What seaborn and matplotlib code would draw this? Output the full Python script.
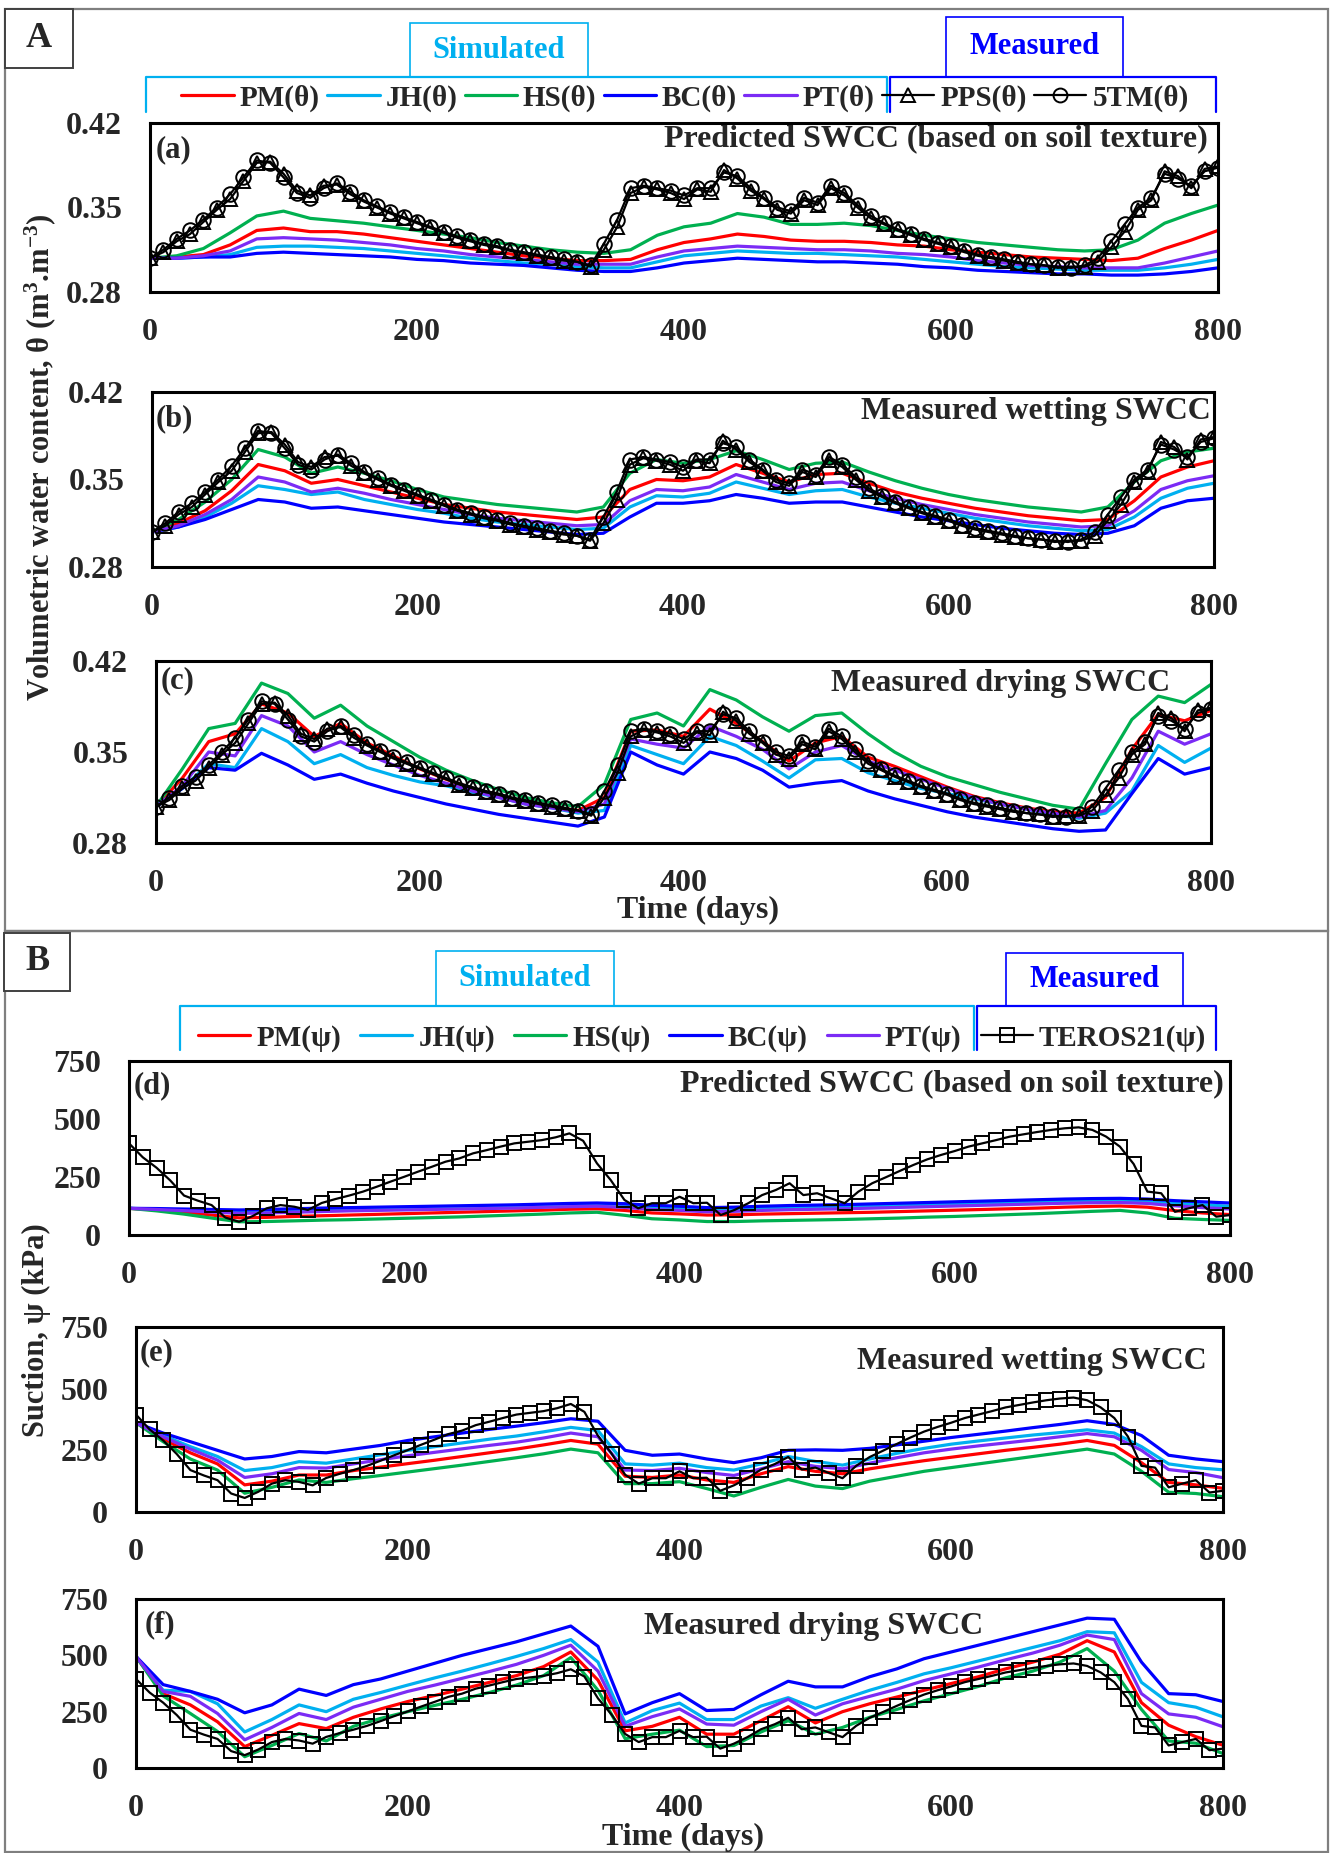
import numpy as np
import pandas as pd
import matplotlib
matplotlib.use("Agg")
import matplotlib.pyplot as plt
from matplotlib.lines import Line2D
from matplotlib.patches import Rectangle
import seaborn as sns

# ---------------- data ----------------
DAYS_SIM = list(range(0, 801, 20))
DAYS_MEAS = list(range(0, 801, 10))
MODELS = ['PM', 'JH', 'HS', 'BC', 'PT']
COLORS = {'PM': '#FF0000', 'JH': '#00B0F0', 'HS': '#00B050',
          'BC': '#0000FF', 'PT': '#7B2BF5'}

# measured water content (same sensors in a, b, c)
pps_theta = [0.308, 0.313, 0.322, 0.328, 0.338, 0.348, 0.357, 0.372, 0.387, 0.388,
             0.378, 0.364, 0.360, 0.368, 0.369, 0.361, 0.355, 0.350, 0.345, 0.341,
             0.337, 0.333, 0.329, 0.325, 0.322, 0.319, 0.317, 0.314, 0.312, 0.310,
             0.308, 0.306, 0.305, 0.301, 0.315, 0.334, 0.362, 0.367, 0.365, 0.362,
             0.357, 0.365, 0.363, 0.381, 0.374, 0.364, 0.357, 0.348, 0.345, 0.356,
             0.352, 0.366, 0.360, 0.350, 0.341, 0.336, 0.331, 0.327, 0.323, 0.320,
             0.317, 0.313, 0.310, 0.308, 0.306, 0.304, 0.303, 0.302, 0.300, 0.301,
             0.301, 0.305, 0.317, 0.330, 0.348, 0.356, 0.380, 0.376, 0.366, 0.382,
             0.384]
tm5_theta = [0.308, 0.315, 0.324, 0.331, 0.340, 0.350, 0.361, 0.375, 0.389, 0.387,
             0.375, 0.362, 0.358, 0.366, 0.370, 0.363, 0.356, 0.351, 0.346, 0.342,
             0.338, 0.334, 0.330, 0.326, 0.323, 0.320, 0.318, 0.315, 0.313, 0.311,
             0.309, 0.307, 0.305, 0.302, 0.320, 0.340, 0.366, 0.368, 0.366, 0.364,
             0.360, 0.366, 0.366, 0.379, 0.376, 0.366, 0.358, 0.350, 0.347, 0.358,
             0.354, 0.368, 0.362, 0.352, 0.343, 0.337, 0.332, 0.328, 0.324, 0.321,
             0.318, 0.314, 0.311, 0.309, 0.307, 0.305, 0.303, 0.302, 0.301, 0.300,
             0.302, 0.308, 0.322, 0.336, 0.350, 0.358, 0.378, 0.374, 0.368, 0.380,
             0.383]
# measured suction (d, e, f)
teros_psi = [395, 335, 290, 235, 170, 148, 129, 75, 57, 82,
             115, 129, 122, 108, 138, 155, 170, 187, 208, 230,
             251, 273, 294, 316, 330, 352, 366, 381, 395, 402,
             409, 421, 438, 406, 309, 237, 151, 115, 137, 137,
             165, 137, 139, 86, 108, 137, 172, 194, 223, 172,
             180, 158, 137, 187, 223, 249, 276, 302, 326, 345,
             362, 381, 395, 409, 424, 434, 444, 453, 460, 464,
             453, 424, 381, 306, 187, 180, 100, 115, 129, 79,
             86]

# (a) predicted SWCC, theta
a_pm = [0.308, 0.309, 0.311, 0.319, 0.331, 0.333, 0.330, 0.330, 0.328, 0.325,
        0.322, 0.319, 0.316, 0.313, 0.310, 0.308, 0.306, 0.306, 0.307, 0.315,
        0.321, 0.324, 0.328, 0.326, 0.323, 0.322, 0.322, 0.321, 0.319, 0.318,
        0.315, 0.313, 0.311, 0.309, 0.308, 0.307, 0.306, 0.308, 0.316, 0.323,
        0.331]
a_jh = [0.308, 0.308, 0.309, 0.311, 0.317, 0.318, 0.318, 0.317, 0.316, 0.314,
        0.312, 0.310, 0.308, 0.306, 0.304, 0.303, 0.301, 0.300, 0.300, 0.305,
        0.310, 0.312, 0.314, 0.313, 0.312, 0.312, 0.311, 0.310, 0.309, 0.307,
        0.305, 0.303, 0.301, 0.300, 0.299, 0.298, 0.298, 0.298, 0.300, 0.303,
        0.307]
a_hs = [0.308, 0.310, 0.316, 0.329, 0.343, 0.347, 0.341, 0.339, 0.337, 0.334,
        0.331, 0.328, 0.325, 0.321, 0.318, 0.315, 0.313, 0.312, 0.315, 0.327,
        0.334, 0.337, 0.345, 0.342, 0.336, 0.336, 0.337, 0.335, 0.331, 0.327,
        0.324, 0.321, 0.319, 0.317, 0.315, 0.314, 0.315, 0.323, 0.337, 0.345,
        0.352]
a_bc = [0.308, 0.308, 0.309, 0.309, 0.312, 0.313, 0.312, 0.311, 0.310, 0.309,
        0.307, 0.306, 0.304, 0.303, 0.302, 0.300, 0.298, 0.297, 0.297, 0.300,
        0.304, 0.306, 0.308, 0.307, 0.306, 0.305, 0.305, 0.304, 0.303, 0.301,
        0.300, 0.298, 0.297, 0.296, 0.295, 0.295, 0.294, 0.294, 0.295, 0.297,
        0.300]
a_pt = [0.308, 0.308, 0.310, 0.314, 0.324, 0.325, 0.324, 0.323, 0.321, 0.319,
        0.316, 0.314, 0.311, 0.309, 0.307, 0.305, 0.303, 0.303, 0.303, 0.309,
        0.314, 0.316, 0.318, 0.317, 0.316, 0.315, 0.315, 0.314, 0.312, 0.311,
        0.309, 0.306, 0.304, 0.302, 0.301, 0.300, 0.300, 0.300, 0.304, 0.309,
        0.314]

# (b) measured wetting SWCC, theta
b_pm = [0.308, 0.315, 0.325, 0.341, 0.362, 0.357, 0.347, 0.350, 0.345, 0.340,
        0.335, 0.330, 0.327, 0.324, 0.322, 0.320, 0.318, 0.320, 0.342, 0.350,
        0.349, 0.352, 0.362, 0.355, 0.348, 0.354, 0.355, 0.347, 0.340, 0.335,
        0.331, 0.327, 0.324, 0.321, 0.319, 0.317, 0.318, 0.333, 0.352, 0.360,
        0.365]
b_jh = [0.308, 0.312, 0.320, 0.331, 0.345, 0.342, 0.338, 0.340, 0.334, 0.330,
        0.326, 0.323, 0.319, 0.316, 0.314, 0.312, 0.310, 0.311, 0.328, 0.337,
        0.336, 0.339, 0.348, 0.343, 0.338, 0.341, 0.342, 0.336, 0.331, 0.327,
        0.323, 0.319, 0.316, 0.313, 0.311, 0.309, 0.310, 0.320, 0.335, 0.343,
        0.347]
b_hs = [0.308, 0.318, 0.332, 0.350, 0.374, 0.368, 0.355, 0.360, 0.355, 0.349,
        0.342, 0.336, 0.333, 0.330, 0.328, 0.326, 0.324, 0.328, 0.355, 0.366,
        0.363, 0.366, 0.373, 0.366, 0.358, 0.363, 0.364, 0.356, 0.349, 0.343,
        0.338, 0.334, 0.331, 0.328, 0.326, 0.324, 0.328, 0.348, 0.365, 0.372,
        0.375]
b_bc = [0.308, 0.312, 0.318, 0.326, 0.334, 0.332, 0.327, 0.328, 0.325, 0.322,
        0.319, 0.316, 0.314, 0.312, 0.310, 0.308, 0.306, 0.307, 0.320, 0.331,
        0.331, 0.333, 0.338, 0.335, 0.331, 0.332, 0.332, 0.328, 0.324, 0.320,
        0.317, 0.314, 0.311, 0.309, 0.307, 0.306, 0.307, 0.313, 0.327, 0.333,
        0.335]
b_pt = [0.308, 0.313, 0.322, 0.334, 0.352, 0.348, 0.340, 0.343, 0.339, 0.334,
        0.330, 0.326, 0.322, 0.319, 0.317, 0.315, 0.313, 0.314, 0.333, 0.342,
        0.341, 0.344, 0.354, 0.348, 0.342, 0.347, 0.348, 0.341, 0.335, 0.330,
        0.326, 0.322, 0.319, 0.316, 0.314, 0.312, 0.313, 0.325, 0.342, 0.349,
        0.353]

# (c) measured drying SWCC, theta
c_pm = [0.308, 0.330, 0.358, 0.364, 0.387, 0.380, 0.362, 0.372, 0.357, 0.347,
        0.337, 0.329, 0.322, 0.316, 0.311, 0.308, 0.305, 0.315, 0.366, 0.367,
        0.362, 0.383, 0.372, 0.358, 0.343, 0.357, 0.362, 0.346, 0.339, 0.331,
        0.323, 0.316, 0.311, 0.307, 0.304, 0.303, 0.315, 0.352, 0.379, 0.374,
        0.382]
c_jh = [0.308, 0.322, 0.341, 0.338, 0.368, 0.358, 0.341, 0.348, 0.338, 0.332,
        0.327, 0.324, 0.319, 0.315, 0.310, 0.307, 0.303, 0.305, 0.355, 0.348,
        0.341, 0.362, 0.355, 0.343, 0.330, 0.344, 0.345, 0.334, 0.328, 0.322,
        0.318, 0.314, 0.310, 0.306, 0.302, 0.299, 0.303, 0.320, 0.355, 0.342,
        0.353]
c_hs = [0.308, 0.337, 0.368, 0.372, 0.403, 0.395, 0.376, 0.386, 0.370, 0.358,
        0.346, 0.336, 0.328, 0.321, 0.315, 0.311, 0.308, 0.325, 0.375, 0.380,
        0.370, 0.398, 0.390, 0.377, 0.366, 0.378, 0.380, 0.364, 0.350, 0.339,
        0.331, 0.325, 0.319, 0.314, 0.309, 0.306, 0.341, 0.375, 0.393, 0.388,
        0.402]
c_bc = [0.308, 0.322, 0.338, 0.336, 0.349, 0.340, 0.329, 0.333, 0.326, 0.320,
        0.315, 0.310, 0.306, 0.302, 0.299, 0.296, 0.293, 0.300, 0.350, 0.340,
        0.333, 0.350, 0.345, 0.336, 0.323, 0.326, 0.328, 0.320, 0.314, 0.309,
        0.304, 0.300, 0.297, 0.294, 0.291, 0.289, 0.290, 0.318, 0.345, 0.333,
        0.338]
c_pt = [0.308, 0.324, 0.350, 0.347, 0.378, 0.370, 0.350, 0.358, 0.348, 0.340,
        0.332, 0.326, 0.320, 0.315, 0.310, 0.307, 0.304, 0.310, 0.360, 0.356,
        0.353, 0.370, 0.362, 0.352, 0.337, 0.350, 0.355, 0.343, 0.336, 0.329,
        0.322, 0.315, 0.310, 0.306, 0.303, 0.300, 0.305, 0.330, 0.366, 0.356,
        0.364]

# (d) predicted SWCC, suction
d_pm = [115, 108, 98, 86, 74, 76, 80, 83, 86, 89,
        92, 95, 98, 101, 104, 107, 111, 113, 106, 95,
        91, 86, 87, 90, 92, 94, 96, 98, 101, 104,
        107, 110, 113, 116, 120, 123, 125, 120, 105, 95,
        88]
d_jh = [115, 112, 108, 103, 98, 100, 104, 107, 110, 112,
        114, 116, 118, 120, 122, 125, 128, 130, 126, 118,
        114, 108, 110, 114, 117, 119, 121, 124, 127, 130,
        133, 136, 139, 142, 145, 147, 148, 145, 137, 130,
        124]
d_hs = [115, 104, 90, 73, 57, 58, 61, 64, 66, 69,
        72, 75, 78, 82, 86, 90, 95, 98, 85, 70,
        65, 58, 58, 61, 63, 65, 67, 70, 73, 77,
        80, 84, 88, 92, 97, 102, 106, 95, 72, 67,
        63]
d_bc = [115, 114, 112, 110, 108, 110, 113, 116, 118, 120,
        122, 124, 126, 128, 130, 133, 136, 138, 135, 128,
        124, 118, 120, 124, 127, 129, 131, 134, 137, 140,
        143, 146, 149, 152, 155, 157, 158, 155, 148, 143,
        138]
d_pt = [115, 110, 105, 99, 93, 95, 98, 101, 104, 106,
        108, 110, 112, 114, 116, 119, 122, 124, 119, 110,
        106, 100, 102, 106, 109, 111, 113, 116, 119, 122,
        125, 128, 131, 134, 137, 139, 140, 136, 126, 118,
        112]

# (e) measured wetting SWCC, suction
e_pm = [362, 295, 240, 195, 110, 125, 150, 150, 168, 182,
        196, 210, 225, 240, 255, 272, 290, 275, 145, 140,
        150, 130, 120, 155, 184, 165, 155, 175, 192, 208,
        222, 236, 250, 262, 275, 290, 270, 200, 120, 110,
        96]
e_jh = [362, 310, 265, 225, 168, 180, 204, 198, 215, 232,
        250, 265, 280, 295, 308, 325, 343, 330, 195, 190,
        198, 180, 170, 195, 225, 205, 190, 215, 238, 258,
        275, 288, 300, 312, 322, 333, 320, 265, 195, 180,
        171]
e_hs = [362, 285, 215, 170, 76, 100, 130, 120, 135, 148,
        162, 176, 190, 205, 220, 236, 255, 240, 115, 115,
        123, 95, 65, 100, 132, 105, 95, 125, 145, 165,
        180, 195, 210, 225, 240, 255, 235, 165, 80, 75,
        62]
e_bc = [362, 320, 285, 250, 215, 225, 245, 240, 255, 270,
        290, 305, 320, 335, 348, 362, 378, 368, 250, 230,
        235, 215, 200, 220, 250, 252, 250, 258, 272, 287,
        302, 315, 328, 342, 355, 370, 355, 310, 230, 215,
        204]
e_pt = [362, 305, 255, 210, 140, 155, 180, 178, 195, 212,
        228, 242, 256, 270, 283, 300, 320, 305, 170, 168,
        177, 160, 148, 175, 204, 185, 175, 198, 220, 240,
        255, 268, 280, 292, 305, 318, 305, 250, 172, 160,
        139]

# (f) measured drying SWCC, suction
f_pm = [495, 330, 280, 205, 95, 145, 197, 175, 225, 262,
        295, 322, 350, 380, 410, 450, 515, 390, 165, 185,
        225, 150, 150, 210, 272, 200, 250, 285, 315, 345,
        375, 405, 440, 470, 505, 565, 515, 290, 190, 139,
        101]
f_jh = [495, 345, 340, 285, 160, 215, 280, 250, 305, 335,
        368, 400, 430, 462, 495, 530, 570, 470, 200, 255,
        288, 215, 215, 275, 312, 265, 305, 345, 380, 418,
        445, 475, 505, 535, 565, 605, 600, 380, 290, 270,
        227]
f_hs = [495, 320, 242, 162, 50, 100, 153, 120, 185, 220,
        250, 278, 305, 335, 368, 410, 490, 345, 130, 150,
        168, 95, 100, 160, 210, 150, 180, 225, 260, 298,
        330, 362, 400, 430, 470, 530, 430, 260, 120, 110,
        64]
f_bc = [495, 370, 340, 305, 245, 280, 350, 322, 370, 395,
        430, 465, 500, 530, 560, 595, 630, 540, 240, 290,
        330, 255, 260, 325, 385, 360, 360, 405, 440, 485,
        515, 545, 575, 605, 635, 665, 660, 470, 330, 325,
        295]
f_pt = [495, 340, 318, 242, 125, 180, 242, 215, 270, 305,
        340, 368, 398, 428, 460, 500, 545, 430, 185, 228,
        262, 195, 190, 250, 305, 235, 285, 318, 350, 388,
        418, 448, 480, 510, 545, 590, 570, 330, 240, 225,
        183]

THETA_TICKS = [0.28, 0.35, 0.42]
PSI_TICKS = [0, 250, 500, 750]
X_TICKS = [0, 200, 400, 600, 800]

# ---------------- style ----------------
sns.set_style("white")
plt.rcParams['font.family'] = ['Liberation Serif', 'DejaVu Serif']
plt.rcParams['font.weight'] = 'bold'
plt.rcParams['axes.labelweight'] = 'bold'
plt.rcParams['mathtext.fontset'] = 'custom'
plt.rcParams['mathtext.rm'] = 'Liberation Serif:bold'
plt.rcParams['mathtext.it'] = 'Liberation Serif:bold'
plt.rcParams['mathtext.bf'] = 'Liberation Serif:bold'
plt.rcParams['mathtext.default'] = 'rm'

W, H = 1333, 1853
FS = 21


def fx(px):
    return px / W


def fy(py):
    return 1 - py / H


def rect(l, t, r, b):
    return [l / W, 1 - b / H, (r - l) / W, (b - t) / H]


def sim_frame(series):
    parts = [pd.DataFrame({'day': DAYS_SIM, 'value': v, 'model': m})
             for m, v in zip(MODELS, series)]
    return pd.concat(parts, ignore_index=True)


fig = plt.figure(figsize=(W / 100, H / 100), dpi=100)


def panel(box, series, measured, ylim, yticks, ylabels):
    ax = fig.add_axes(rect(*box))
    sns.lineplot(data=sim_frame(series), x='day', y='value', hue='model',
                 hue_order=MODELS, palette=COLORS, linewidth=2.3,
                 legend=False, ax=ax)
    for vals, mk in measured:
        sns.lineplot(x=DAYS_MEAS, y=vals, color='black', linewidth=1.6,
                     marker=mk, markersize=10.5, markerfacecolor='none',
                     markeredgecolor='black', markeredgewidth=1.4, ax=ax)
    ax.set_xlim(0, 800)
    ax.set_ylim(*ylim)
    ax.set_xticks(X_TICKS)
    ax.set_xticklabels([str(t) for t in X_TICKS])
    ax.set_yticks(yticks)
    ax.set_yticklabels(ylabels)
    ax.tick_params(length=0, labelsize=FS + 2)
    ax.tick_params(axis='x', pad=19)
    ax.tick_params(axis='y', pad=20)
    ax.set_xlabel('')
    ax.set_ylabel('')
    for s in ax.spines.values():
        s.set_color('black')
        s.set_linewidth(2.2)
    return ax


theta_meas = [(pps_theta, '^'), (tm5_theta, 'o')]
psi_meas = [(teros_psi, 's')]
th_lab = ['0.28', '0.35', '0.42']
ps_lab = ['0', '250', '500', '750']

panel((150, 123, 1218, 292), [a_pm, a_jh, a_hs, a_bc, a_pt], theta_meas,
      (0.28, 0.42), THETA_TICKS, th_lab)
panel((152, 392, 1214, 567), [b_pm, b_jh, b_hs, b_bc, b_pt], theta_meas,
      (0.28, 0.42), THETA_TICKS, th_lab)
panel((156, 661, 1211, 843), [c_pm, c_jh, c_hs, c_bc, c_pt], theta_meas,
      (0.28, 0.42), THETA_TICKS, th_lab)
panel((129, 1061, 1230, 1235), [d_pm, d_jh, d_hs, d_bc, d_pt], psi_meas,
      (0, 750), PSI_TICKS, ps_lab)
panel((136, 1327, 1223, 1512), [e_pm, e_jh, e_hs, e_bc, e_pt], psi_meas,
      (0, 750), PSI_TICKS, ps_lab)
panel((136, 1599, 1223, 1768), [f_pm, f_jh, f_hs, f_bc, f_pt], psi_meas,
      (0, 750), PSI_TICKS, ps_lab)

# x-axis titles
fig.text(fx(698), fy(910), 'Time (days)', ha='center', va='center',
         fontsize=FS + 2)
fig.text(fx(683), fy(1837), 'Time (days)', ha='center', va='center',
         fontsize=FS + 2)

# panel tags and titles
tags = [('(a)', 156, 135), ('(b)', 156, 404), ('(c)', 161, 666),
        ('(d)', 134, 1071), ('(e)', 140, 1338), ('(f)', 145, 1610)]
for t, x, y in tags:
    fig.text(fx(x), fy(y), t, ha='left', va='top', fontsize=FS + 1)
titles = [('Predicted SWCC (based on soil texture)', 1208, 124),
          ('Measured wetting SWCC', 1211, 397),
          ('Measured drying SWCC', 1170, 669),
          ('Predicted SWCC (based on soil texture)', 1224, 1069),
          ('Measured wetting SWCC', 1207, 1347),
          ('Measured drying SWCC', 983, 1612)]
for t, x, y in titles:
    fig.text(fx(x), fy(y), t, ha='right', va='top', fontsize=FS + 2)

fig.text(fx(40), fy(457), 'Volumetric water content, θ (m$^{3}$.m$^{-3}$)',
         rotation=90, ha='center', va='center', fontsize=FS + 1)
fig.text(fx(36), fy(1330), 'Suction, ψ (kPa)', rotation=90,
         ha='center', va='center', fontsize=FS + 1)

# outer frames and section labels
GRAY = '#7F7F7F'
for (l, t, r, b) in [(5, 9, 1328, 931), (5, 931, 1328, 1852)]:
    fig.add_artist(Rectangle((fx(l), fy(b)), fx(r) - fx(l), fy(t) - fy(b),
                             transform=fig.transFigure, fill=False,
                             ec=GRAY, lw=1.6))
for lab, (l, t, r, b) in [('A', (5, 9, 73, 68)), ('B', (4, 933, 70, 991))]:
    fig.add_artist(Rectangle((fx(l), fy(b)), fx(r) - fx(l), fy(t) - fy(b),
                             transform=fig.transFigure, fc='white',
                             ec='#404040', lw=1.4))
    fig.text(fx((l + r) / 2), fy((t + b) / 2), lab, ha='center', va='center',
             fontsize=FS + 5)


def bracket(x0, x1, ytop, ybot, color):
    fig.add_artist(Line2D([fx(x0), fx(x0), fx(x1), fx(x1)],
                          [fy(ybot), fy(ytop), fy(ytop), fy(ybot)],
                          transform=fig.transFigure, color=color, lw=1.6))


def label_box(l, t, r, b, text, color):
    fig.add_artist(Rectangle((fx(l), fy(b)), fx(r) - fx(l), fy(t) - fy(b),
                             transform=fig.transFigure, fc='white',
                             ec=color, lw=1.2))
    fig.text(fx((l + r) / 2), fy((t + b) / 2), text, ha='center', va='center',
             fontsize=FS + 1, color=color)


CYAN = '#00B0F0'
BLUE = '#0000FF'
bracket(146, 887, 77, 112, CYAN)
bracket(890, 1216, 77, 112, BLUE)
label_box(410, 23, 588, 77, 'Simulated', CYAN)
label_box(946, 17, 1123, 77, 'Measured', BLUE)
bracket(180, 974, 1006, 1050, CYAN)
bracket(977, 1216, 1006, 1050, BLUE)
label_box(436, 951, 614, 1006, 'Simulated', CYAN)
label_box(1006, 953, 1183, 1006, 'Measured', BLUE)


# legends
def sim_handles():
    return [Line2D([], [], color=COLORS[m], lw=2.3) for m in MODELS]


def meas_handle(mk):
    return Line2D([], [], color='black', lw=1.6, marker=mk, markersize=10,
                  markerfacecolor='none', markeredgecolor='black',
                  markeredgewidth=1.4)


h_a = sim_handles() + [meas_handle('^'), meas_handle('o')]
l_a = [m + '(θ)' for m in MODELS] + ['PPS(θ)', '5TM(θ)']
fig.legend(h_a, l_a, ncol=7, loc='center', bbox_to_anchor=(fx(685), fy(98)),
           frameon=False, handlelength=1.8, handletextpad=0.2,
           columnspacing=0.25, prop={'size': FS, 'weight': 'bold'})
h_b = sim_handles() + [meas_handle('s')]
l_b = [m + '(ψ)' for m in MODELS] + ['TEROS21(ψ)']
fig.legend(h_b, l_b, ncol=6, loc='center', bbox_to_anchor=(fx(702), fy(1038)),
           frameon=False, handlelength=1.8, handletextpad=0.2,
           columnspacing=0.65, prop={'size': FS, 'weight': 'bold'})

fig.savefig('out.png', dpi=100)
